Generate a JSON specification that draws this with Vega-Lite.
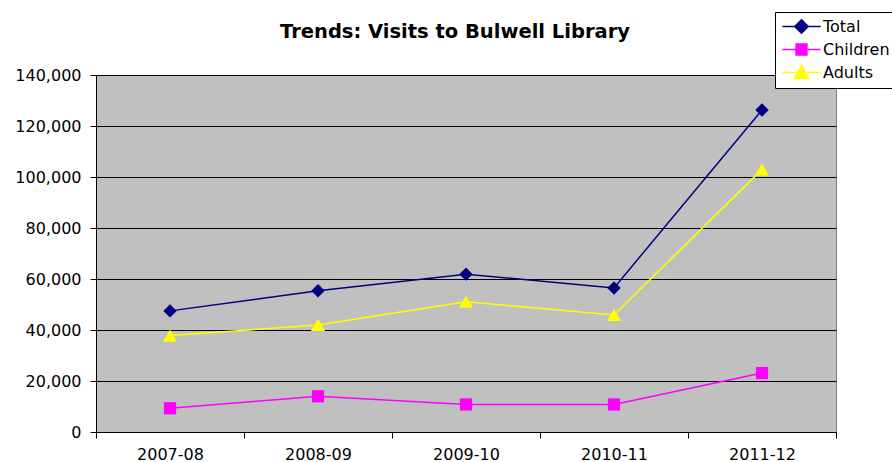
{
  "$schema": "https://vega.github.io/schema/vega-lite/v6.json",
  "width": 740,
  "height": 357,
  "autosize": {"type": "none"},
  "padding": {"left": 96, "top": 75, "right": 56, "bottom": 30},
  "background": "white",
  "title": {
    "text": "Trends: Visits to Bulwell Library",
    "font": "DejaVu Sans",
    "fontSize": 19.5,
    "fontWeight": "bold",
    "color": "black",
    "anchor": "middle",
    "dx": -11,
    "offset": -31
  },
  "data": {
    "values": [
      {"year": "2007-08", "series": "Total", "visits": 47500},
      {"year": "2008-09", "series": "Total", "visits": 55400},
      {"year": "2009-10", "series": "Total", "visits": 61900},
      {"year": "2010-11", "series": "Total", "visits": 56500},
      {"year": "2011-12", "series": "Total", "visits": 126300},
      {"year": "2007-08", "series": "Children", "visits": 9300},
      {"year": "2008-09", "series": "Children", "visits": 14000},
      {"year": "2009-10", "series": "Children", "visits": 10800},
      {"year": "2010-11", "series": "Children", "visits": 10800},
      {"year": "2011-12", "series": "Children", "visits": 23100},
      {"year": "2007-08", "series": "Adults", "visits": 37800},
      {"year": "2008-09", "series": "Adults", "visits": 42000},
      {"year": "2009-10", "series": "Adults", "visits": 51100},
      {"year": "2010-11", "series": "Adults", "visits": 45900},
      {"year": "2011-12", "series": "Adults", "visits": 103000}
    ]
  },
  "encoding": {
    "x": {
      "field": "year",
      "type": "ordinal",
      "title": null,
      "scale": {"type": "band", "paddingInner": 0, "paddingOuter": 0},
      "axis": {
        "labelAngle": 0,
        "tickBand": "extent",
        "tickSize": 6,
        "tickColor": "black",
        "domainColor": "black",
        "labelPadding": 8,
        "labelFont": "DejaVu Sans",
        "labelFontSize": 16,
        "labelColor": "black",
        "grid": false
      }
    },
    "y": {
      "field": "visits",
      "type": "quantitative",
      "title": null,
      "scale": {"domain": [0, 140000], "nice": false},
      "axis": {
        "values": [0, 20000, 40000, 60000, 80000, 100000, 120000, 140000],
        "format": ",d",
        "tickSize": 6,
        "tickColor": "black",
        "domainColor": "black",
        "labelPadding": 9,
        "labelFont": "DejaVu Sans",
        "labelFontSize": 16,
        "labelColor": "black",
        "grid": true,
        "gridColor": "black",
        "gridOpacity": 1,
        "gridWidth": 1
      }
    },
    "color": {
      "field": "series",
      "type": "nominal",
      "scale": {
        "domain": ["Total", "Children", "Adults"],
        "range": ["#000080", "#FF00FF", "#FFFF00"]
      },
      "legend": {
        "title": null,
        "orient": "none",
        "legendX": 679,
        "legendY": -63,
        "padding": 6,
        "fillColor": "white",
        "strokeColor": "black",
        "symbolSize": 225,
        "symbolOffset": 12,
        "labelOffset": 13,
        "rowPadding": 4,
        "labelFont": "DejaVu Sans",
        "labelFontSize": 16,
        "labelColor": "black",
        "encode": {
          "symbols": {
            "update": {
              "shape": {
                "signal": "datum.value === 'Total' ? 'M-2.55,0H2.55M0,-0.9L0.9,0L0,0.9L-0.9,0Z' : datum.value === 'Children' ? 'M-2.55,0H2.55M-0.72,-0.72H0.72V0.72H-0.72Z' : 'M-2.55,0H2.55M0,-0.95L0.95,0.8H-0.95Z'"
              },
              "fill": {"signal": "scale('color', datum.value)"},
              "stroke": {"signal": "scale('color', datum.value)"},
              "strokeWidth": {"value": 1.5},
              "opacity": {"value": 1},
              "fillOpacity": {"value": 1},
              "strokeOpacity": {"value": 1}
            }
          }
        }
      }
    }
  },
  "layer": [
    {
      "mark": {"type": "line", "strokeWidth": 1.5}
    },
    {
      "transform": [{"filter": "datum.series === 'Total'"}],
      "mark": {"type": "point", "shape": "diamond", "filled": true, "opacity": 1, "size": 180}
    },
    {
      "transform": [{"filter": "datum.series === 'Children'"}],
      "mark": {"type": "point", "shape": "square", "filled": true, "opacity": 1, "size": 150}
    },
    {
      "transform": [{"filter": "datum.series === 'Adults'"}],
      "mark": {"type": "point", "shape": "triangle-up", "filled": true, "opacity": 1, "size": 200}
    }
  ],
  "config": {
    "view": {"fill": "#C0C0C0", "stroke": "#808080", "strokeWidth": 1}
  }
}
